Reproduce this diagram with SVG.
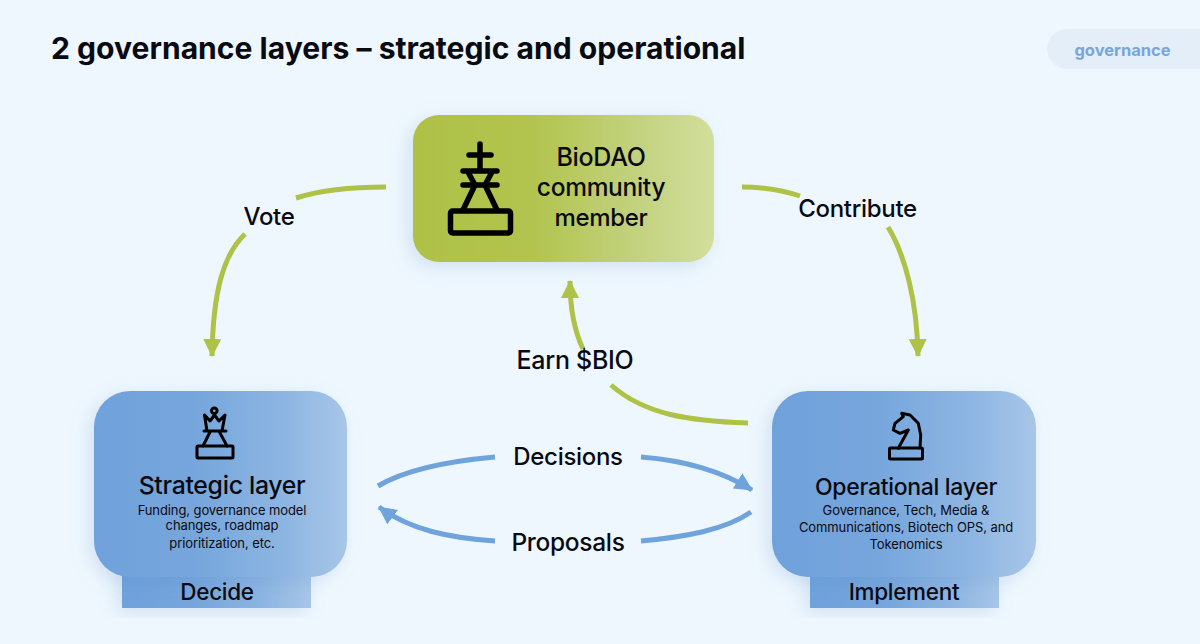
<svg xmlns="http://www.w3.org/2000/svg" width="1200" height="644" viewBox="0 0 1200 644">
<style>
text{font-family:"Inter","Liberation Sans",sans-serif;fill:#0a0a12;text-anchor:middle}
.shadow{filter:url(#sh)}
.g{fill:none;stroke:#AEC247;stroke-width:5}
.b{fill:none;stroke:#6FA3DC;stroke-width:5}
.ic{fill:none;stroke:#000;stroke-linejoin:round;stroke-linecap:round}
.lab{font-size:24px;font-weight:500;letter-spacing:-.3px}
.h{font-size:23px;font-weight:500;letter-spacing:-.3px}
.s{font-size:13px;letter-spacing:-.1px}
.t{font-size:22.500px;font-weight:500;letter-spacing:-.3px}
</style>
<defs>
<linearGradient id="gb" x1="0" x2="1" y1="0" y2="0"><stop offset="0" stop-color="#6FA1DB"/><stop offset=".4" stop-color="#76A6DC"/><stop offset=".75" stop-color="#8DB5E2"/><stop offset="1" stop-color="#A7C6E8"/></linearGradient>
<linearGradient id="gg" x1="0" x2="1" y1="0" y2="0"><stop offset="0" stop-color="#AEC145"/><stop offset=".4" stop-color="#B2C44F"/><stop offset=".75" stop-color="#C3D27F"/><stop offset="1" stop-color="#D2DE9C"/></linearGradient>
<filter id="sh" x="-20%" y="-20%" width="140%" height="140%"><feDropShadow dx="-5" dy="5" stdDeviation="9" flood-color="#4A7FC0" flood-opacity=".18"/></filter>
<marker id="ag" markerUnits="userSpaceOnUse" markerWidth="20" markerHeight="20" refX="17" refY="9" orient="auto"><path d="M0 0L18 9L0 18Z" fill="#AEC247"/></marker>
<marker id="ab" markerUnits="userSpaceOnUse" markerWidth="20" markerHeight="20" refX="17" refY="9" orient="auto"><path d="M0 0L18 9L0 18Z" fill="#6FA3DC"/></marker>
</defs>
<rect width="1200" height="644" fill="#EFF7FE"/>
<text x="51" y="59" style="font-size:30.100px;font-weight:700;text-anchor:start">2 governance layers – strategic and operational</text>
<g id="tag"><path d="M1200 29H1068a21 20 0 0 0 0 40H1200Z" fill="#E4EEF9"/><text x="1122.500" y="56" style="font-size:16.500px;font-weight:700;fill:#78A5DB">governance</text></g>
<g id="connectors">
<path class="g" d="M386 187C350 187 318 191 296 198"/>
<path class="g" d="M245 234C224 254 213 290 212 356" marker-end="url(#ag)"/>
<path class="g" d="M742 187C765 187 782 190 800 196"/>
<path class="g" d="M888 227C905 255 917 300 918 356" marker-end="url(#ag)"/>
<path class="g" d="M748 423C690 421 645 415 611 385"/>
<path class="g" d="M583 349C574 330 570 310 570 281" marker-end="url(#ag)"/>
<path class="b" d="M378 486C405 470 450 461 495 457"/>
<path class="b" d="M641 457C680 460 720 470 752 490" marker-end="url(#ab)"/>
<path class="b" d="M751 512C725 530 685 537 641 541"/>
<path class="b" d="M495 541C450 538 410 530 379 507" marker-end="url(#ab)"/>
</g>
<g id="community">
<rect class="shadow" x="413" y="115" width="301" height="147" rx="26" fill="url(#gg)"/>
<g class="ic" stroke-width="5.500"><path d="M480 144V170M469 155H491M463 171H497M463 185H497M468 172L475 185M492 172L485 185M475 185L463 210M485 185L497 210"/><rect x="450.500" y="211" width="60" height="22" rx="2"/></g>
<text class="lab" x="601" y="166" style="font-size:25px">BioDAO</text><text class="lab" x="601" y="196" style="font-size:24.500px">community</text><text class="lab" x="601" y="226">member</text>
</g>
<g id="strategic">
<rect class="shadow" x="122" y="560" width="189" height="48" fill="url(#gb)"/>
<rect class="shadow" x="94" y="391" width="253" height="186" rx="36" fill="url(#gb)"/>
<g class="ic" stroke-width="3"><circle cx="214.300" cy="410.700" r="2.800"/><path d="M204.500 415L210 421L214.500 415L219 421L225 415L222 431H207ZM204 431H226M210 432L203 446M219.500 432L227 446"/><rect x="197" y="446" width="36" height="12" rx="1"/></g>
<text class="h" x="222" y="494" style="font-size:24.800px">Strategic layer</text>
<text class="s" x="222" y="515">Funding, governance model</text><text class="s" x="222" y="530">changes, roadmap</text><text class="s" x="222" y="548">prioritization, etc.</text>
<text class="t" x="217" y="600">Decide</text>
</g>
<g id="operational">
<rect class="shadow" x="810" y="560" width="189" height="48" fill="url(#gb)"/>
<rect class="shadow" x="772" y="391" width="264" height="186" rx="36" fill="url(#gb)"/>
<g class="ic" stroke-width="3"><path d="M898.300 448.300L908.300 430L900 433.300L893.300 430L895 423.300L903.300 416.700L901.700 413.300L910 415L918.300 423.300L920.700 435L920 448"/><rect x="889.500" y="448" width="33" height="11" rx="1"/></g>
<text class="h" x="906" y="495">Operational layer</text>
<text class="s" x="906" y="515">Governance, Tech, Media &amp;</text><text class="s" x="906" y="532">Communications, Biotech OPS, and</text><text class="s" x="906" y="549">Tokenomics</text>
<text class="t" x="904" y="600">Implement</text>
</g>
<g id="labels">
<text class="lab" x="269" y="225">Vote</text>
<text class="lab" x="857.500" y="217">Contribute</text>
<text class="lab" x="575" y="369" style="font-size:25px">Earn $BIO</text>
<text class="lab" x="568" y="465">Decisions</text>
<text class="lab" x="568" y="551" style="font-size:24.500px">Proposals</text>
</g>
</svg>
